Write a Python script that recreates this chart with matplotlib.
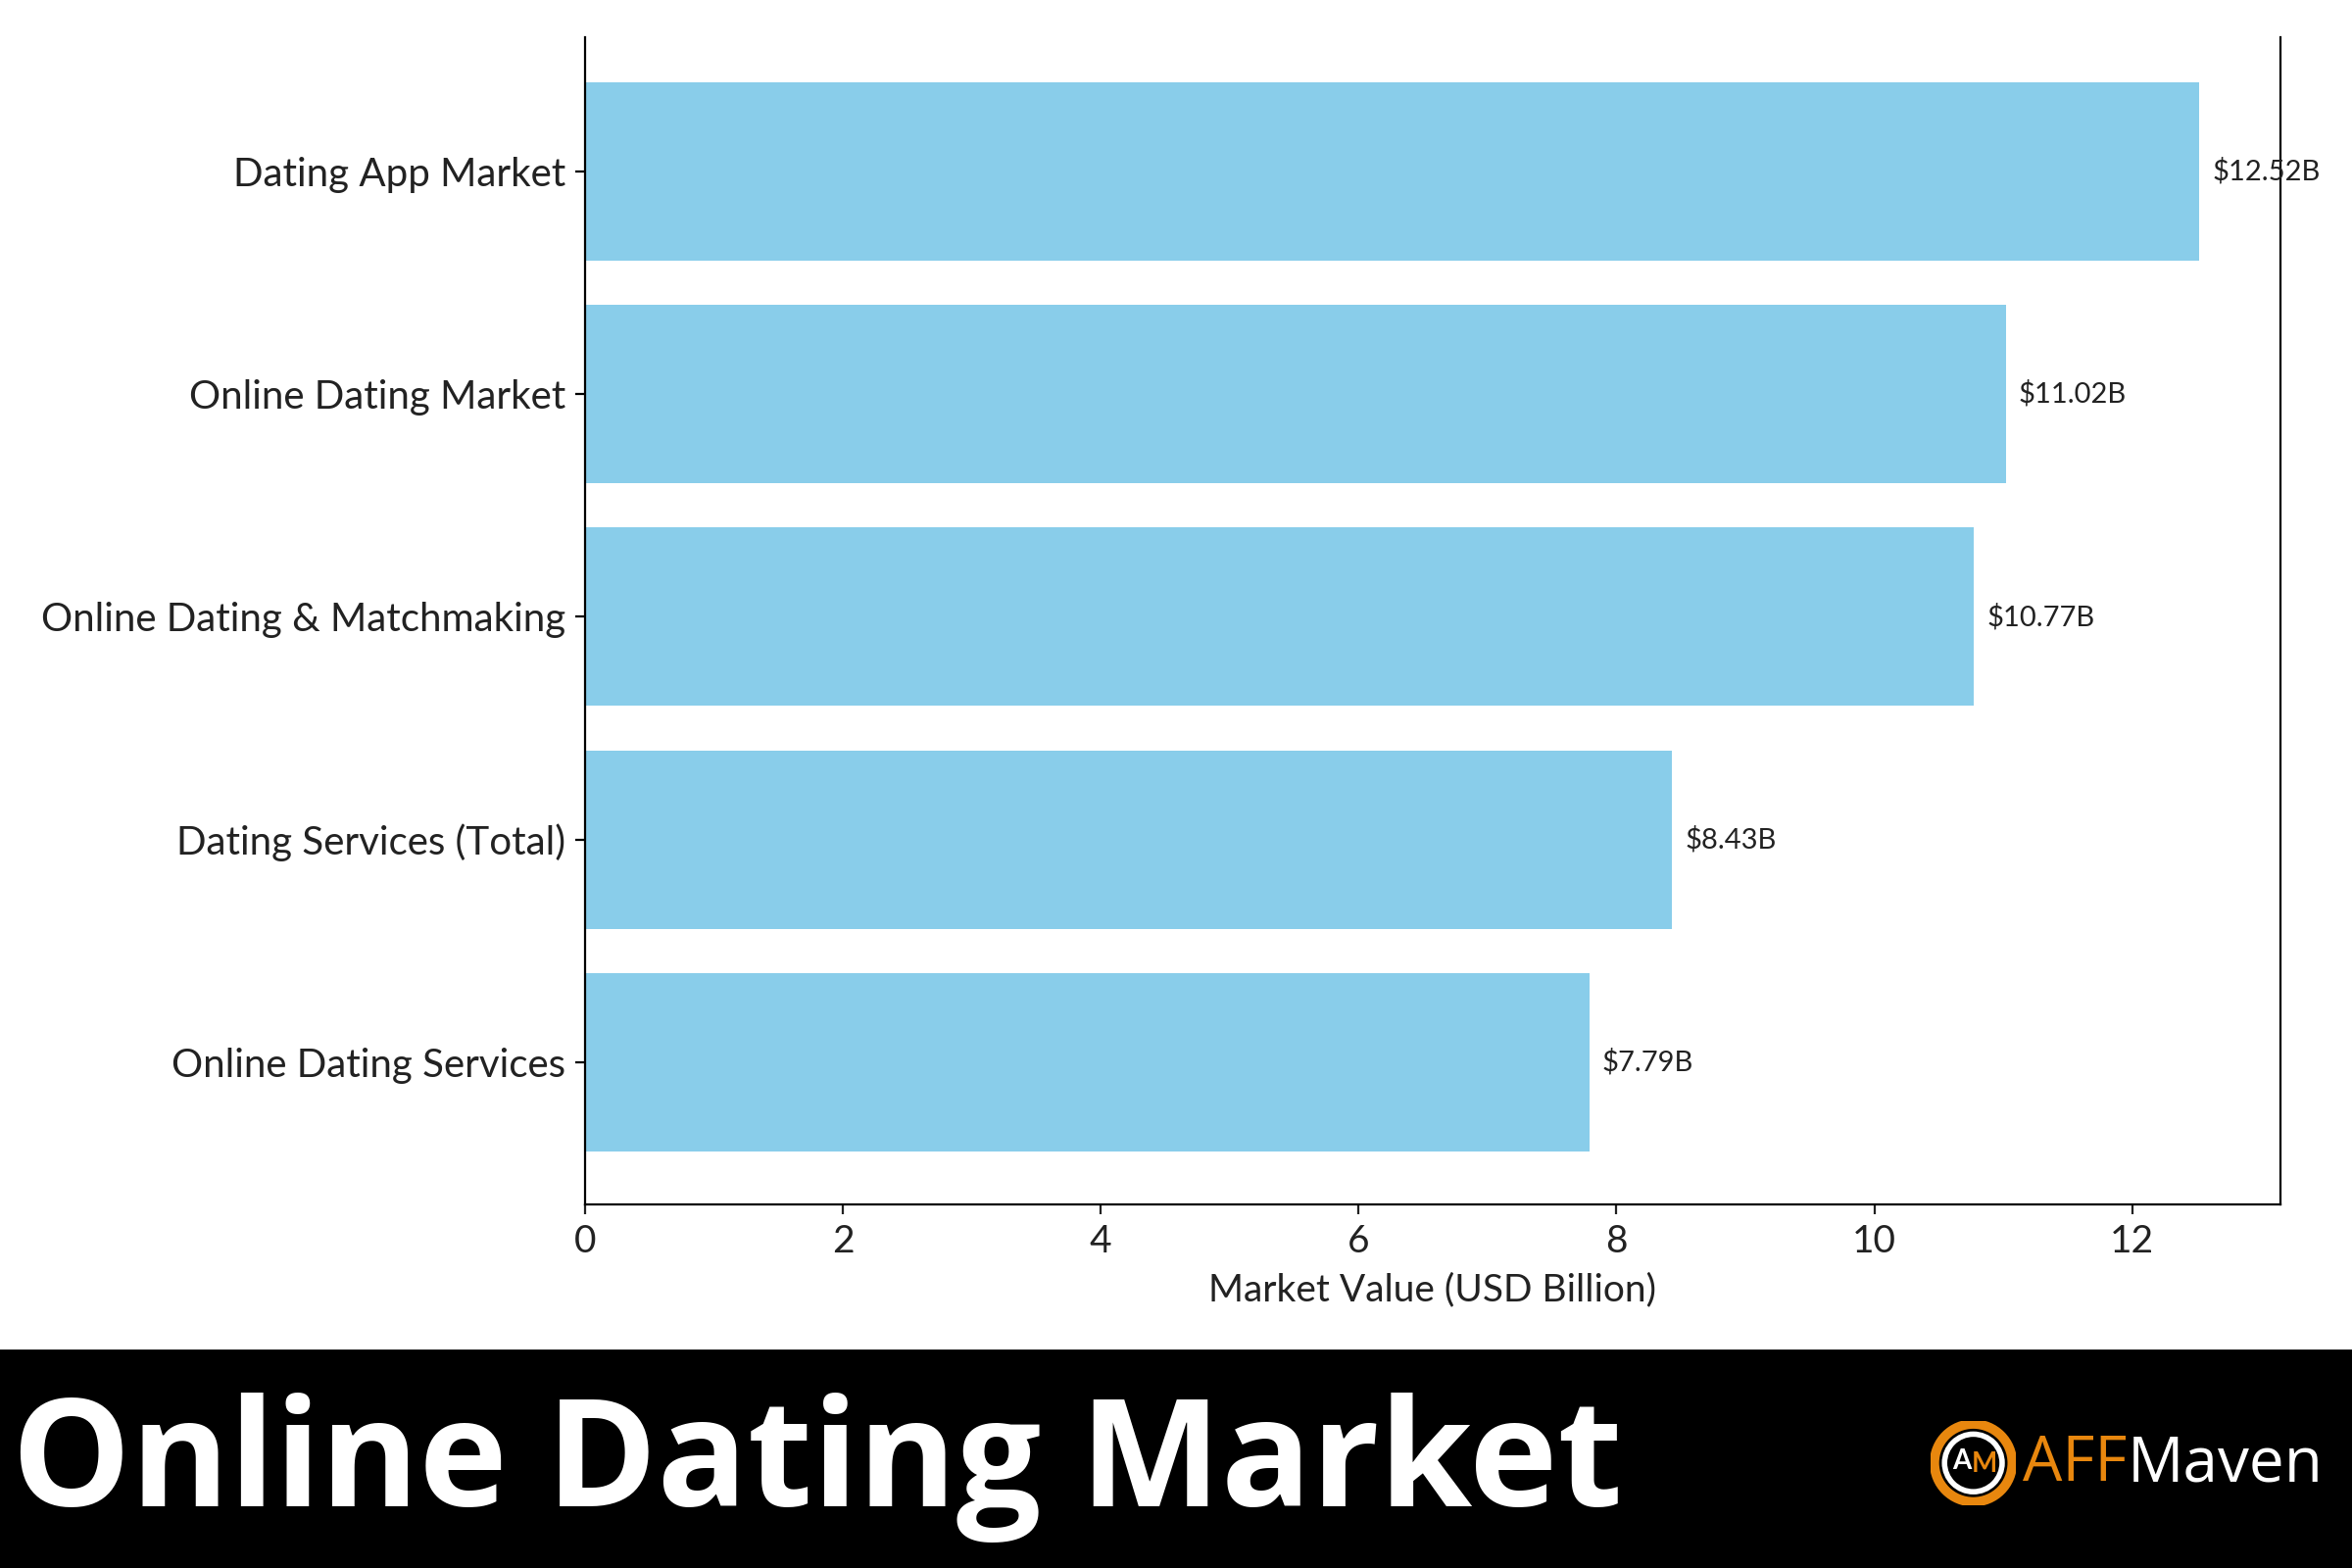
from matplotlib import pyplot as plt
from matplotlib.patches import Circle, Rectangle

# data
categories = ["Dating App Market", "Online Dating Market", "Online Dating & Matchmaking",
              "Dating Services (Total)", "Online Dating Services"]
values = [12.52, 11.02, 10.77, 8.43, 7.79]
value_labels = ["$12.52B", "$11.02B", "$10.77B", "$8.43B", "$7.79B"]

bar_color = "#89CDEA"
orange = "#E8870E"

plt.rcParams['font.family'] = ['Lato', 'DejaVu Sans']

fig = plt.figure(figsize=(12, 8), dpi=200)
ax = fig.add_axes([0.2487, 0.2316, 0.7207, 0.7445])

ax.barh(range(len(categories)), values, color=bar_color, height=0.8)
ax.set_yticks(range(len(categories)))
ax.set_yticklabels(categories, fontsize=14.5, color="#222222")
ax.set_ylim(4.64, -0.60)
ax.set_xticks(range(0, 13, 2))
ax.tick_params(axis="x", labelsize=14, colors="#222222")
ax.set_xlabel("Market Value (USD Billion)", fontsize=14, color="#222222", labelpad=5)

for i, v in enumerate(values):
    ax.text(v + 0.1, i, value_labels[i], va="center", ha="left", fontsize=10.5, color="#222222")

ax.spines["top"].set_visible(False)

# bottom banner
fig.patches.append(Rectangle((0, 0), 1, 0.139, transform=fig.transFigure, color="black", zorder=-5))
fig.text(0.005, 0.064, "Online Dating Market", color="white", fontsize=55, fontweight="bold",
         family="Open Sans", va="center", ha="left")

# logo
logo = fig.add_axes([0.821, 0.040, 0.036, 0.054], zorder=5)
logo.set_xlim(-1, 1)
logo.set_ylim(-1, 1)
logo.axis("off")
logo.add_patch(Circle((0, 0), 0.92, facecolor="none", edgecolor=orange, linewidth=3.5))
logo.add_patch(Circle((0, 0), 0.68, facecolor="none", edgecolor="white", linewidth=2))
logo.text(-0.27, 0.05, "A", color="white", fontsize=10, fontweight="bold", ha="center", va="center")
logo.text(0.27, -0.02, "M", color=orange, fontsize=10, fontweight="bold", ha="center", va="center")
aff = fig.text(0.860, 0.066, "AFF", color=orange, fontsize=23, family="Open Sans",
               va="center", ha="left")
ax.annotate("Maven", xy=(1, 0.5), xycoords=aff, color="white", fontsize=23,
            family="Open Sans", va="center", ha="left", annotation_clip=False)

plt.savefig("out.png")
